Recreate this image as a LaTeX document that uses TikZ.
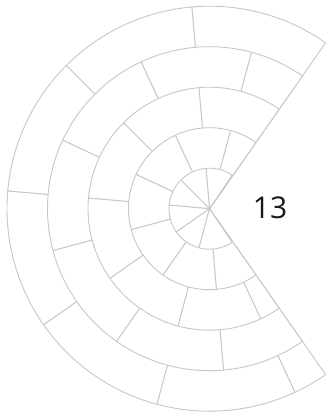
\documentclass[tikz,border=0pt]{standalone}
\usepackage{fontspec}
\setmainfont{Open Sans}
\begin{document}
\begin{tikzpicture}[x=1pt, y=1pt, line width=0.9pt,
		seg/.style={draw=black!22, fill=white, line join=round}]
		\useasboundingbox (-209.5,-208.3) rectangle (118.5,208.7);
		% ---- ring 5 (outermost), drawn first so inner rings cover it ----
		\foreach \a/\b in {55/95,95/135,135/175,175/215,215/255,255/295,295/305}
			\filldraw[seg] (0,0) -- (\a:202.5) arc[start angle=\a, end angle=\b, radius=202.5] -- cycle;
		% ---- ring 4: shifted by half a cell ----
		\foreach \a/\b in {55/75,75/115,115/155,155/195,195/235,235/275,275/305}
			\filldraw[seg] (0,0) -- (\a:162) arc[start angle=\a, end angle=\b, radius=162] -- cycle;
		% ---- ring 3 ----
		\foreach \a/\b in {55/95,95/135,135/175,175/215,215/255,255/295,295/305}
			\filldraw[seg] (0,0) -- (\a:121.5) arc[start angle=\a, end angle=\b, radius=121.5] -- cycle;
		% ---- ring 2 ----
		\foreach \a/\b in {55/75,75/115,115/155,155/195,195/235,235/275,275/305}
			\filldraw[seg] (0,0) -- (\a:81) arc[start angle=\a, end angle=\b, radius=81] -- cycle;
		% ---- ring 1: a touch narrower, so the edges of ring 2 show beside it ----
		\foreach \a/\b in {56/95,95/135,135/175,175/215,215/255,255/304}
			\filldraw[seg] (0,0) -- (\a:40.5) arc[start angle=\a, end angle=\b, radius=40.5] -- cycle;
		% ---- label in the open gap ----
		\node[font=\fontsize{30}{36}\selectfont, text=black!90] (num) at (60.5,1.2) {13};
	\end{tikzpicture}
\end{document}
